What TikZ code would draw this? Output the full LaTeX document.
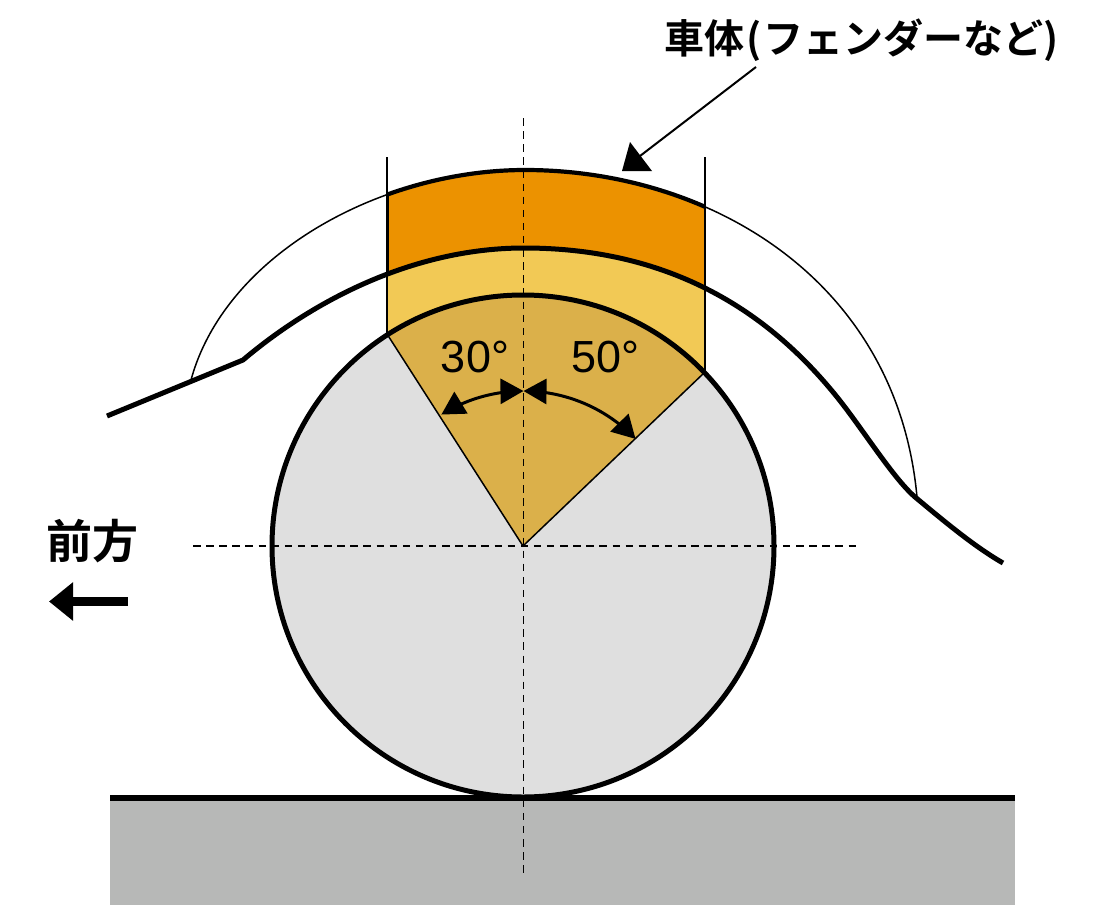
\documentclass[tikz,border=0pt]{standalone}
\usepackage{fontspec}
\usetikzlibrary{arrows.meta}
\setmainfont{Liberation Sans}
\newfontfamily\cjk{Noto Sans CJK JP}[BoldFont={* Bold}]
\definecolor{orng}{HTML}{EC9200}
\definecolor{yel}{HTML}{F2C955}
\definecolor{gold}{HTML}{DBB04A}
\definecolor{tire}{HTML}{DFDFDF}
\definecolor{road}{HTML}{B7B8B7}
\def\outerpath{(191,380) .. controls (225,255) and (380,170) .. (525,170) .. controls (710,170) and (897,280) .. (917,497)}
\def\fenderpath{(107,416) -- (243,360) .. controls (320,295) and (420,248) .. (524,248) .. controls (680,248) and (775,320) .. (837,397) .. controls (862,428) and (893,478) .. (915,497)}
\tikzset{
 thickline/.style={line width=5pt,black},
 thinline/.style={line width=1.5pt,black},
 centerline/.style={line width=1.6pt,black,dash pattern=on 7.5pt off 5.61pt},
 dim/.style={line width=3pt,black,{Triangle[length=23pt,width=25pt]}-{Triangle[length=23pt,width=25pt]}}
}
\begin{document}
\begin{tikzpicture}[x=1pt,y=-1pt]
\useasboundingbox (0,0) rectangle (1100,910);
\fill[white] (0,0) rectangle (1100,910);
% ground
\fill[road] (110,798) rectangle (1015,904.5);
% column fills
\begin{scope}
 \clip (387,100) rectangle (705,600);
 \fill[orng] \outerpath -- cycle;
 \fill[yel] \fenderpath -- (1003,563) -- cycle;
\end{scope}
% tire
\fill[tire] (523,546) circle[radius=251];
\begin{scope}
 \clip (523,546) circle[radius=251];
 \fill[gold] (523,546) -- (387,334) -- (387,100) -- (705,100) -- (705,372) -- cycle;
\end{scope}
\draw[thinline] (387,334) -- (523,546) -- (705,372);
% outer curve thin, with thick part in the column
\draw[thinline] \outerpath;
\begin{scope}
 \clip (387,100) rectangle (705,300);
 \draw[line width=4.2pt] \outerpath;
\end{scope}
% verticals
\draw[thinline] (387,157) -- (387,334);
\draw[thinline] (705,157) -- (705,372);
\draw[line width=2.6pt] (387.5,192) -- (387.5,273);
\draw[line width=2.6pt] (705,207) -- (705,283);
% fender
\draw[thickline,line join=round] \fenderpath .. controls (945,522) and (975,547) .. (1003,563);
% tire outline, ground line
\draw[thickline] (523,546) circle[radius=251];
\draw[line width=5.5pt] (110,798) -- (1015,798);
% centre lines
\draw[centerline] (523.5,118) -- (523.5,878);
\draw[centerline] (193,546) -- (856,546);
% angle arrows
\draw[dim] plot[domain=0:-32,samples=25] ({523.5+155*sin(\x)},{546-155*cos(\x)});
\draw[dim] plot[domain=0:46.3,samples=25] ({523.5+155*sin(\x)},{546-155*cos(\x)});
% labels
\node[font=\fontsize{45}{45}\selectfont,anchor=base,inner sep=0pt] (a30) at (475,372.5) {30°};
\node[font=\fontsize{45}{45}\selectfont,anchor=base,inner sep=0pt] (a50) at (605.5,372.5) {50°};
\node[font=\cjk\bfseries\fontsize{40}{40}\selectfont,anchor=center,inner sep=0pt] (body) at (861.5,40) {車体\hspace{2pt}(\hspace{1pt}フェンダーなど)};
\node[font=\cjk\bfseries\fontsize{46}{46}\selectfont,anchor=center,inner sep=0pt] (front) at (92.5,541) {前方};
% body pointer
\coordinate (ptr) at (640,156);
\coordinate (ptrstart) at (756,67);
\draw[line width=2pt] (ptrstart) -- (ptr);
\fill (630,142) -- (622,171) -- (652,171) -- cycle;
% forward arrow
\coordinate (fa) at (127.5,601.5);
\coordinate (fb) at (49,601.5);
\draw[line width=9pt,-{Triangle[length=24pt,width=37pt]}] (fa) -- (fb);
\end{tikzpicture}
\end{document}
